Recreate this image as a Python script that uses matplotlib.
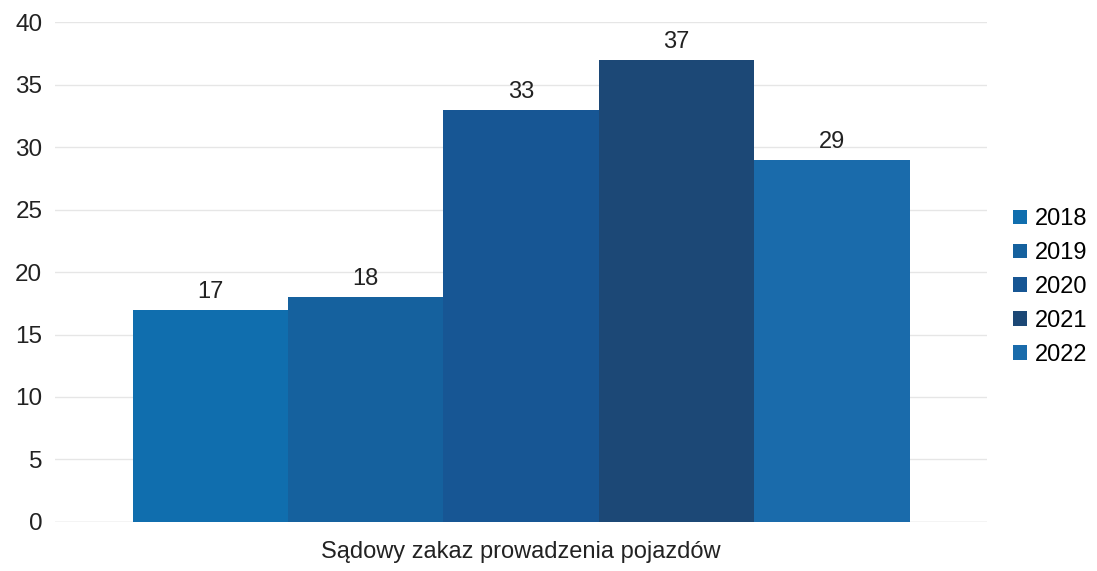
import matplotlib
matplotlib.use("Agg")
import matplotlib.pyplot as plt
import numpy as np

plt.rcParams['font.family'] = ['Liberation Sans', 'DejaVu Sans']

category = "Sądowy zakaz prowadzenia pojazdów"
years = ["2018", "2019", "2020", "2021", "2022"]
values = [17, 18, 33, 37, 29]
colors = ["#106eae", "#15619e", "#175694", "#1c4876", "#1a6bab"]
yticks = [0, 5, 10, 15, 20, 25, 30, 35, 40]

fig = plt.figure(figsize=(10.97, 5.71), dpi=100)
ax = fig.add_axes([0.05, 0.086, 0.85, 0.875])

n = len(years)
w = 1.0 / (n + 1)
for i, (yr, v, c) in enumerate(zip(years, values, colors)):
    x = (i - (n - 1) / 2) * w
    ax.bar(x, v, width=w, color=c, label=yr, zorder=3)
    ax.text(x, v + 0.55, str(v), ha="center", va="bottom", fontsize=17, color="#222222")

ax.set_xlim(-0.5, 0.5)
ax.set_ylim(0, 40)
ax.set_yticks(yticks)
ax.set_xticks([0])
ax.set_xticklabels([category], fontsize=17, color="#222222")
ax.tick_params(axis="y", labelsize=17.5, labelcolor="#222222", length=0, pad=9)
ax.tick_params(axis="x", length=0, pad=14)
ax.grid(axis="y", color="#e6e6e6", linewidth=1, zorder=0)
for s in ax.spines.values():
    s.set_visible(False)
ax.axhline(0, color="#dddddd", linewidth=1, zorder=2)

leg = ax.legend(loc="center left", bbox_to_anchor=(1.005, 0.47), frameon=False,
                fontsize=17, handlelength=0.58, handleheight=0.58, handletextpad=0.35,
                labelspacing=0.5)

fig.savefig("out.png", dpi=100, facecolor="white")
